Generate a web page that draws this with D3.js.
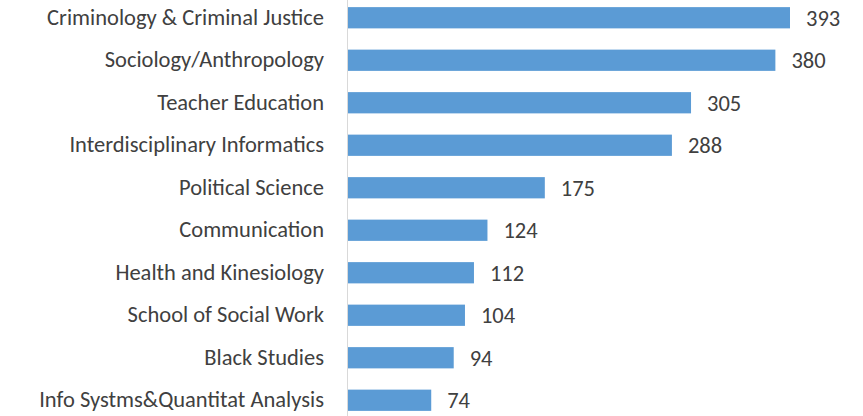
<!DOCTYPE html>
<html>
<head>
<meta charset="utf-8">
<script src="https://cdn.jsdelivr.net/npm/d3@7"></script>
<style>
    body { margin: 0; background: #fff; }
    svg text { font-family: Carlito, Calibri, Lato, sans-serif; font-size: 22.5px; fill: #404040; }
</style>
</head>
<body>
<svg id="chart" width="863" height="416"></svg>
<script>
const departments = [
    'Criminology & Criminal Justice',
    'Sociology/Anthropology',
    'Teacher Education',
    'Interdisciplinary Informatics',
    'Political Science',
    'Communication',
    'Health and Kinesiology',
    'School of Social Work',
    'Black Studies',
    'Info Systms&Quantitat Analysis'
];
const counts = [393, 380, 305, 288, 175, 124, 112, 104, 94, 74];

const data = departments.map((d, i) => ({ name: d, value: counts[i] }));

const margin = { l: 347, t: -3.5, b: -5.5 };
const width = 863;
const height = 416;

const svg = d3.select('#chart');

const scaleX = d3.scaleLinear()
    .domain([0, 393])
    .range([margin.l + 1, 790]);

const scaleY = d3.scaleBand()
    .domain(departments)
    .range([margin.t, height - margin.b])
    .paddingInner(0.5)
    .paddingOuter(0.25);

// bars
svg.append('g')
    .attr('class', 'bars')
    .selectAll('rect')
    .data(data)
    .join('rect')
    .attr('x', scaleX(0))
    .attr('y', d => scaleY(d.name))
    .attr('width', d => scaleX(d.value) - scaleX(0))
    .attr('height', scaleY.bandwidth())
    .style('fill', '#5b9bd5');

// category axis
const axisY = d3.axisLeft(scaleY)
    .tickSize(0)
    .tickPadding(23);

const gy = svg.append('g')
    .attr('class', 'axis axis-y')
    .attr('transform', `translate(${margin.l}, 0)`)
    .call(axisY);

gy.select('.domain').remove();
gy.attr('font-size', null).attr('font-family', null);
gy.selectAll('text').attr('fill', null);

svg.append('line')
    .attr('x1', margin.l + 0.5)
    .attr('x2', margin.l + 0.5)
    .attr('y1', 0)
    .attr('y2', height)
    .style('stroke', '#d9d9d9')
    .style('stroke-width', 1);

// value labels
svg.append('g')
    .attr('class', 'labels')
    .selectAll('text')
    .data(data)
    .join('text')
    .attr('x', d => scaleX(d.value) + 16)
    .attr('y', d => scaleY(d.name) + scaleY.bandwidth() / 2)
    .attr('dy', '0.35em')
    .text(d => d.value);
</script>
</body>
</html>
